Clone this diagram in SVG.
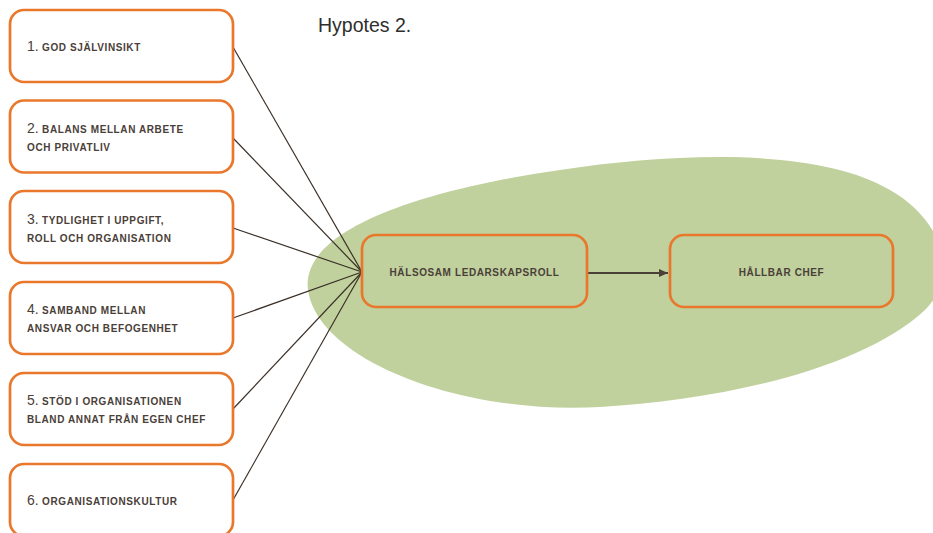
<svg xmlns="http://www.w3.org/2000/svg" width="933" height="533" viewBox="0 0 933 533">
<defs>
<style>
.box{fill:#ffffff;stroke:#E9782C;stroke-width:2.7}
.cbox{fill:none;stroke:#E9782C;stroke-width:2.7}
.lbl{font-family:"Liberation Sans",Arial,sans-serif;font-size:10px;font-weight:bold;letter-spacing:0.6px;fill:#4A4038}
.num{font-size:14px;font-weight:normal;letter-spacing:0}
.conn{stroke:#3A3028;stroke-width:1.2;fill:none}
.title{font-family:"Liberation Sans",Arial,sans-serif;font-size:19.5px;fill:#2E2E2E}
</style>
<marker id="arr" markerWidth="10" markerHeight="10" refX="9" refY="5" orient="auto" markerUnits="userSpaceOnUse">
<path d="M0,1 L9,5 L0,9 Z" fill="#4A4038"/>
</marker>
</defs>
<rect width="933" height="533" fill="#ffffff"/>
<path id="blob" d="M308,290 C300,230 420,190 560,170 C680,152 820,148 890,190 C935,215 965,270 925,310 C860,370 720,400 600,407 C460,415 318,360 308,290 Z" fill="#C0D19D"/>
<text class="title" x="318" y="32">Hypotes 2.</text>
<g id="connectors">
<line class="conn" x1="233" y1="47" x2="362" y2="272"/>
<line class="conn" x1="233" y1="138" x2="362" y2="272"/>
<line class="conn" x1="233" y1="228" x2="362" y2="272"/>
<line class="conn" x1="233" y1="318" x2="362" y2="272"/>
<line class="conn" x1="233" y1="409" x2="362" y2="272"/>
<line class="conn" x1="233" y1="500" x2="362" y2="272"/>
<line x1="587" y1="273" x2="668" y2="273" stroke="#4A4038" stroke-width="1.8" marker-end="url(#arr)"/>
</g>
<g id="n1">
<rect class="box" x="10" y="10" width="223" height="72" rx="14"/>
<text class="lbl" x="27" y="51"><tspan class="num">1.</tspan> GOD SJÄLVINSIKT</text>
</g>
<g id="n2">
<rect class="box" x="10" y="100.5" width="223" height="72" rx="14"/>
<text class="lbl" x="27" y="133"><tspan class="num">2.</tspan> BALANS MELLAN ARBETE</text>
<text class="lbl" x="27" y="150.5">OCH PRIVATLIV</text>
</g>
<g id="n3">
<rect class="box" x="10" y="191" width="223" height="72" rx="14"/>
<text class="lbl" x="27" y="223.5"><tspan class="num">3.</tspan> TYDLIGHET I UPPGIFT,</text>
<text class="lbl" x="27" y="241.5">ROLL OCH ORGANISATION</text>
</g>
<g id="n4">
<rect class="box" x="10" y="282" width="223" height="72" rx="14"/>
<text class="lbl" x="27" y="314"><tspan class="num">4.</tspan> SAMBAND MELLAN</text>
<text class="lbl" x="27" y="332">ANSVAR OCH BEFOGENHET</text>
</g>
<g id="n5">
<rect class="box" x="10" y="373" width="223" height="72" rx="14"/>
<text class="lbl" x="27" y="405"><tspan class="num">5.</tspan> STÖD I ORGANISATIONEN</text>
<text class="lbl" x="27" y="423">BLAND ANNAT FRÅN EGEN CHEF</text>
</g>
<g id="n6">
<rect class="box" x="10" y="464" width="223" height="72" rx="14"/>
<text class="lbl" x="27" y="505"><tspan class="num">6.</tspan> ORGANISATIONSKULTUR</text>
</g>
<g id="halsosam">
<rect class="cbox" x="362" y="235" width="225" height="72" rx="14"/>
<text class="lbl" x="474.5" y="276" text-anchor="middle">HÄLSOSAM LEDARSKAPSROLL</text>
</g>
<g id="hallbar">
<rect class="cbox" x="670" y="235" width="223" height="72" rx="14"/>
<text class="lbl" x="781.5" y="276" text-anchor="middle">HÅLLBAR CHEF</text>
</g>
</svg>
